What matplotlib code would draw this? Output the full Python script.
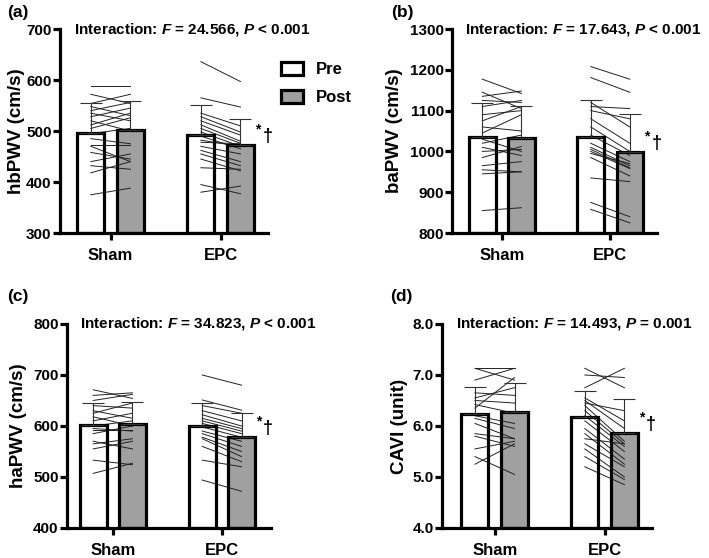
import matplotlib
matplotlib.use('Agg')
import matplotlib.pyplot as plt
from matplotlib.patches import Patch

plt.rcParams['font.family'] = ['Liberation Sans', 'DejaVu Sans']
plt.rcParams['font.weight'] = 'bold'
plt.rcParams['mathtext.fontset'] = 'custom'
plt.rcParams['mathtext.rm'] = 'Liberation Sans:bold'
plt.rcParams['mathtext.it'] = 'Liberation Sans:italic:bold'
plt.rcParams['mathtext.bf'] = 'Liberation Sans:bold'

groups = ['Sham', 'EPC']

# group means (Pre, Post) and upper SD
hb_mean_pre = [497, 493]
hb_mean_post = [502, 473]
hb_sd_pre = [58, 58]
hb_sd_post = [56, 51]

ba_mean_pre = [1035, 1035]
ba_mean_post = [1032, 998]
ba_sd_pre = [83, 92]
ba_sd_post = [79, 93]

ha_mean_pre = [602, 600]
ha_mean_post = [604, 578]
ha_sd_pre = [43, 45]
ha_sd_post = [43, 47]

cavi_mean_pre = [6.23, 6.17]
cavi_mean_post = [6.27, 5.87]
cavi_sd_pre = [0.54, 0.51]
cavi_sd_post = [0.58, 0.65]

# individual subjects (pre -> post)
hb_sham_pre = [589, 572, 554, 548, 540, 535, 528, 520, 512, 505, 495, 485, 473, 470, 458, 440, 432, 418, 375]
hb_sham_post = [589, 554, 572, 530, 556, 520, 545, 500, 535, 526, 505, 475, 473, 440, 445, 455, 425, 440, 388]
hb_epc_pre = [636, 565, 535, 528, 520, 512, 505, 498, 490, 482, 478, 470, 462, 455, 445, 428, 395, 380]
hb_epc_post = [597, 547, 510, 498, 492, 480, 476, 470, 465, 470, 475, 455, 440, 432, 422, 425, 377, 392]

ba_sham_pre = [1177, 1145, 1135, 1125, 1110, 1090, 1075, 1060, 1045, 1030, 1020, 1010, 1000, 985, 965, 955, 945, 855]
ba_sham_post = [1142, 1105, 1148, 1120, 1125, 1100, 1110, 1050, 1090, 1000, 1040, 990, 1005, 1012, 975, 950, 950, 862]
ba_epc_pre = [1208, 1181, 1120, 1110, 1100, 1080, 1060, 1040, 1020, 1010, 1005, 1000, 995, 985, 935, 875, 858]
ba_epc_post = [1177, 1145, 1060, 1105, 1080, 1020, 1000, 990, 975, 965, 960, 958, 970, 940, 926, 840, 825]

ha_sham_pre = [671, 660, 650, 640, 630, 625, 618, 610, 600, 595, 592, 585, 570, 565, 555, 533, 507]
ha_sham_post = [654, 665, 662, 635, 615, 645, 600, 625, 610, 590, 592, 600, 555, 575, 570, 524, 527]
ha_epc_pre = [700, 651, 640, 630, 622, 615, 610, 605, 598, 590, 585, 578, 575, 560, 533, 494]
ha_epc_post = [680, 631, 625, 610, 600, 595, 590, 585, 578, 570, 560, 550, 540, 530, 520, 472]

cavi_sham_pre = [7.13, 7.13, 6.90, 6.65, 6.55, 6.50, 6.42, 6.35, 6.20, 6.15, 6.05, 5.85, 5.80, 5.55, 5.40, 5.25]
cavi_sham_post = [7.13, 6.90, 7.13, 6.60, 6.75, 6.45, 6.25, 6.95, 6.05, 5.95, 5.75, 5.75, 5.60, 5.70, 5.05, 5.65]
cavi_epc_pre = [7.13, 6.75, 7.00, 6.55, 6.50, 6.45, 6.40, 6.30, 6.20, 6.10, 5.95, 5.85, 5.75, 5.65, 5.55, 5.40, 5.20]
cavi_epc_post = [6.75, 7.13, 6.95, 6.10, 5.95, 6.30, 5.70, 5.65, 5.60, 5.50, 5.35, 5.25, 5.65, 5.20, 5.00, 4.95, 4.85]

OFF = 0.18
W = 0.245
GRAY = '#a0a0a0'


def panel(ax, mpre, mpost, sdpre, sdpost, subj, ylim, step, ylabel, stat, fmt='%d', xlim=(-0.46, 1.43)):
    lo, hi = ylim
    xs = [0, 1]
    pre_x = [x - OFF for x in xs]
    post_x = [x + OFF for x in xs]
    # fills
    ax.bar(pre_x, [m - lo for m in mpre], W, bottom=lo, color='white', zorder=1)
    ax.bar(post_x, [m - lo for m in mpost], W, bottom=lo, color=GRAY, zorder=1)
    # subject lines
    for i, (pre, post) in enumerate(subj):
        for a, b in zip(pre, post):
            ax.plot([pre_x[i], post_x[i]], [a, b], color='#222222', lw=0.7, zorder=2)
    # bar edges
    ax.bar(pre_x, [m - lo for m in mpre], W, bottom=lo, fill=False, edgecolor='black', lw=2.3, zorder=3)
    ax.bar(post_x, [m - lo for m in mpost], W, bottom=lo, fill=False, edgecolor='black', lw=2.3, zorder=3)
    # upper SD
    ax.errorbar(pre_x, mpre, yerr=[[0, 0], sdpre], fmt='none', ecolor='#333333', elinewidth=0.8, capsize=8, capthick=0.8, zorder=4)
    ax.errorbar(post_x, mpost, yerr=[[0, 0], sdpost], fmt='none', ecolor='#333333', elinewidth=0.8, capsize=8, capthick=0.8, zorder=4)

    ax.set_ylim(lo, hi)
    ax.set_xlim(*xlim)
    ticks = []
    t = lo
    while t <= hi + 1e-9:
        ticks.append(t)
        t += step
    ax.set_yticks(ticks)
    ax.set_yticklabels([fmt % v for v in ticks], fontsize=11, fontweight='bold')
    ax.set_xticks(xs)
    ax.set_xticklabels(groups, fontsize=12, fontweight='bold')
    for s in ['top', 'right']:
        ax.spines[s].set_visible(False)
    for s in ['left', 'bottom']:
        ax.spines[s].set_linewidth(2.3)
    ax.tick_params(axis='both', width=2.3, length=5, direction='out')
    ax.tick_params(axis='y', pad=1)
    ax.tick_params(axis='x', pad=6)
    ax.set_ylabel(ylabel, fontsize=13.5, fontweight='bold')
    ax.text(0.065, 1.0, stat, transform=ax.transAxes, fontsize=11, fontweight='bold',
            va='center', ha='left', clip_on=False)
    # significance marks next to EPC post bar
    ax.annotate('*', (1 + OFF + W / 2, mpost[1]), xytext=(1, 6), textcoords='offset points',
                fontsize=10, fontweight='bold', ha='left', va='bottom')
    ax.annotate('\u2020', (1 + OFF + W / 2, mpost[1]), xytext=(6, 0), textcoords='offset points',
                fontsize=13, fontweight='bold', ha='left', va='bottom')


fig = plt.figure(figsize=(7.09, 5.58), dpi=100)
ax_a = fig.add_axes([0.0846, 0.5824, 0.2934, 0.3656])
ax_b = fig.add_axes([0.6375, 0.5824, 0.2890, 0.3656])
ax_c = fig.add_axes([0.0945, 0.0538, 0.2877, 0.3656])
ax_d = fig.add_axes([0.6234, 0.0538, 0.2960, 0.3656])

panel(ax_a, hb_mean_pre, hb_mean_post, hb_sd_pre, hb_sd_post,
      [(hb_sham_pre, hb_sham_post), (hb_epc_pre, hb_epc_post)],
      (300, 700), 100, 'hbPWV (cm/s)', 'Interaction: $F$ = 24.566, $P$ < 0.001')
panel(ax_b, ba_mean_pre, ba_mean_post, ba_sd_pre, ba_sd_post,
      [(ba_sham_pre, ba_sham_post), (ba_epc_pre, ba_epc_post)],
      (800, 1300), 100, 'baPWV (cm/s)', 'Interaction: $F$ = 17.643, $P$ < 0.001')
panel(ax_c, ha_mean_pre, ha_mean_post, ha_sd_pre, ha_sd_post,
      [(ha_sham_pre, ha_sham_post), (ha_epc_pre, ha_epc_post)],
      (400, 800), 100, 'haPWV (cm/s)', 'Interaction: $F$ = 34.823, $P$ < 0.001', xlim=(-0.42, 1.45))
panel(ax_d, cavi_mean_pre, cavi_mean_post, cavi_sd_pre, cavi_sd_post,
      [(cavi_sham_pre, cavi_sham_post), (cavi_epc_pre, cavi_epc_post)],
      (4.0, 8.0), 1.0, 'CAVI (unit)', 'Interaction: $F$ = 14.493, $P$ = 0.001', fmt='%.1f', xlim=(-0.48, 1.43))

ax_a.yaxis.set_label_coords(-0.168, 0.5)
ax_b.yaxis.set_label_coords(-0.239, 0.5)
ax_c.yaxis.set_label_coords(-0.196, 0.5)
ax_d.yaxis.set_label_coords(-0.162, 0.5)

handles = [Patch(facecolor='white', edgecolor='black', lw=2.3, label='Pre'),
           Patch(facecolor=GRAY, edgecolor='black', lw=2.3, label='Post')]
ax_a.legend(handles=handles, loc='upper left', bbox_to_anchor=(1.03, 0.87), frameon=False,
            prop={'size': 12, 'weight': 'bold'}, handlelength=1.3, handleheight=0.8,
            handletextpad=0.8, labelspacing=0.75, borderaxespad=0)

fig.text(7 / 709, 1 - 12 / 558, '(a)', fontsize=12.5, fontweight='bold', va='center', ha='left')
fig.text(391 / 709, 1 - 12 / 558, '(b)', fontsize=12.5, fontweight='bold', va='center', ha='left')
fig.text(7 / 709, 1 - 297 / 558, '(c)', fontsize=12.5, fontweight='bold', va='center', ha='left')
fig.text(390 / 709, 1 - 296 / 558, '(d)', fontsize=12.5, fontweight='bold', va='center', ha='left')

fig.savefig('out.png', dpi=100)
